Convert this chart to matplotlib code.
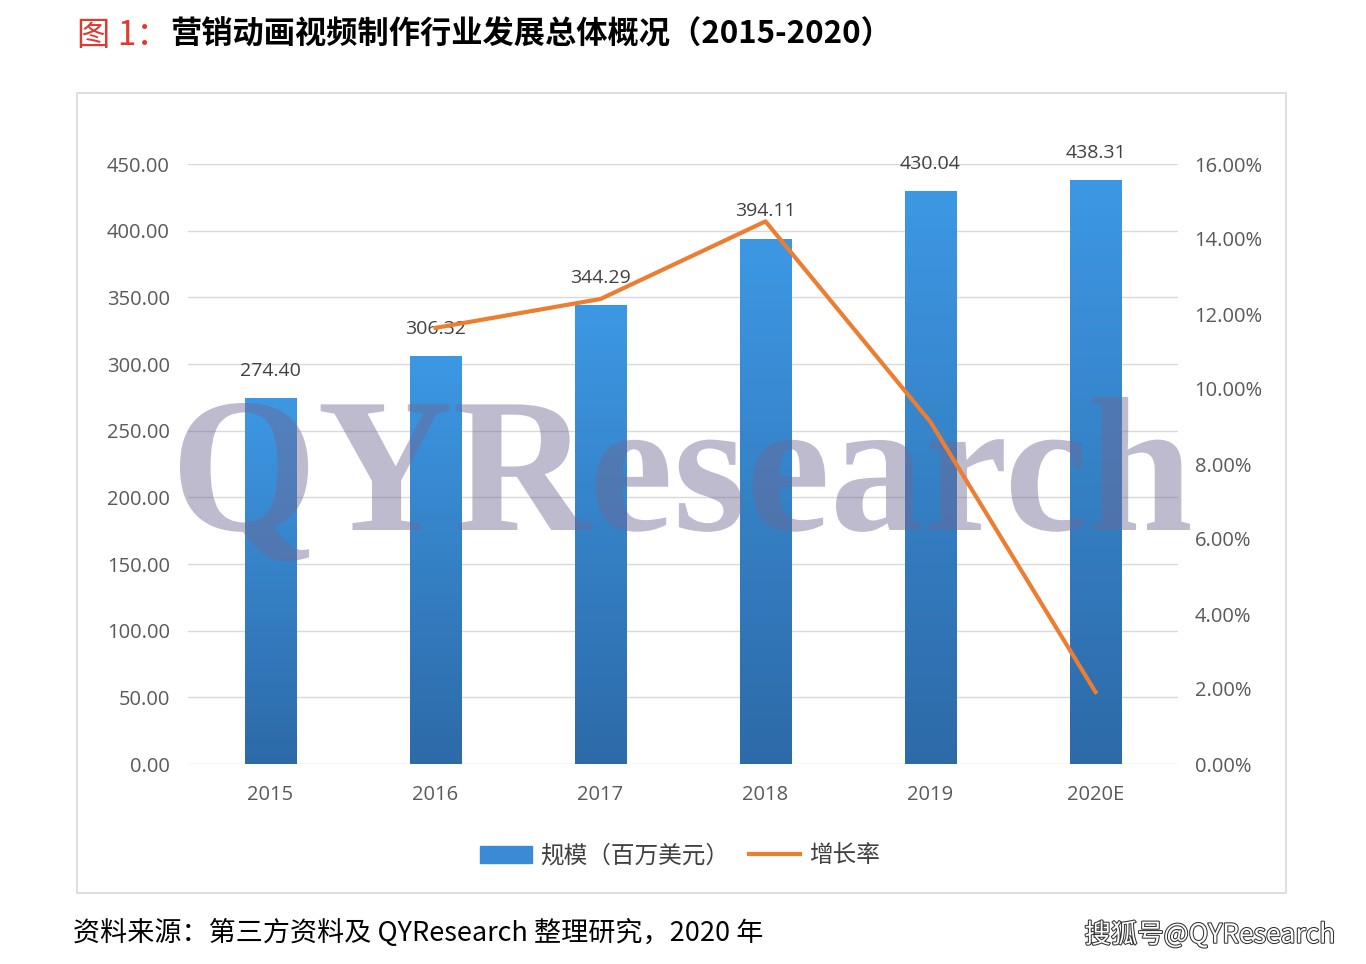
import numpy as np
import matplotlib
matplotlib.use("Agg")
import matplotlib.pyplot as plt
from matplotlib.textpath import TextPath
from matplotlib.font_manager import FontProperties
from matplotlib.patches import PathPatch, Rectangle
from matplotlib.transforms import Affine2D
from matplotlib.colors import LinearSegmentedColormap
import matplotlib.patheffects as pe

plt.rcParams['font.family'] = ['Open Sans', 'Noto Sans CJK SC', 'DejaVu Sans']

years = ["2015", "2016", "2017", "2018", "2019", "2020E"]
market_size = [274.40, 306.32, 344.29, 394.11, 430.04, 438.31]   # 百万美元
growth_years = ["2016", "2017", "2018", "2019", "2020E"]
growth_rate = [11.63, 12.40, 14.47, 9.12, 1.92]                # %

W, H = 1366, 964
fig = plt.figure(figsize=(W / 100, H / 100), dpi=100)
fig.patch.set_facecolor('white')

# outer frame of the chart area
fig.add_artist(Rectangle((77 / W, 1 - 893 / H), (1286 - 77) / W, (893 - 93) / H,
                         transform=fig.transFigure, fill=False,
                         edgecolor='#d9d9d9', lw=1.2))

ax = fig.add_axes([188 / W, 1 - 764 / H, (1178 - 188) / W, 600 / H])
x = np.arange(len(years))
bars = ax.bar(x, market_size, width=0.315, color='#3a8ad6', zorder=2)

# vertical gradient on each bar
cmap = LinearSegmentedColormap.from_list('bl', ['#2d6aa8', '#3d98e4'])
grad = np.linspace(0, 1, 256).reshape(-1, 1)
for b in bars:
    bx, by = b.get_x(), b.get_y()
    im = ax.imshow(grad, cmap=cmap, origin='lower', aspect='auto',
                   extent=[bx, bx + b.get_width(), by, by + b.get_height()],
                   zorder=2.1)
    im.set_clip_path(b)

for xi, v in zip(x, market_size):
    ax.annotate(f"{v:.2f}", (xi, v), xytext=(0, 13), textcoords='offset points',
                ha='center', va='bottom', fontsize=14, color='#404040', zorder=6)

ax.set_xlim(-0.5, len(years) - 0.5)
ax.set_ylim(0, 450)
ax.set_yticks(np.arange(0, 451, 50))
ax.yaxis.set_major_formatter(matplotlib.ticker.FuncFormatter(lambda v, p: f"{v:.2f}"))
ax.set_xticks(x)
ax.set_xticklabels(years)
ax.grid(axis='y', color='#d9d9d9', lw=1, zorder=0)
ax.set_axisbelow(True)
for s in ax.spines.values():
    s.set_visible(False)
ax.tick_params(axis='y', length=0, pad=13, labelsize=14.5, labelcolor='#595959')
ax.tick_params(axis='x', length=0, pad=15, labelsize=14.5, labelcolor='#595959')

ax2 = ax.twinx()
gx = [years.index(g) for g in growth_years]
line, = ax2.plot(gx, growth_rate, color='#ed7d31', lw=3, zorder=5)
ax2.set_ylim(0, 16)
ax2.set_yticks(np.arange(0, 17, 2))
ax2.yaxis.set_major_formatter(matplotlib.ticker.FuncFormatter(lambda v, p: f"{v:.2f}%"))
for s in ax2.spines.values():
    s.set_visible(False)
ax2.tick_params(axis='y', length=0, pad=12, labelsize=14.5, labelcolor='#595959')

# QYResearch watermark
tp = TextPath((0, 0), "QYResearch", size=100,
              prop=FontProperties(family='Liberation Serif', weight='bold'))
ext = tp.get_extents()
cap = 66.2
sx = (1190 - 180) / ext.width
sy = (530 - 403) / cap
tr = (Affine2D().translate(-ext.x0, 0).scale(sx / W, sy / H)
      .translate(180 / W, (H - 530) / H) + fig.transFigure)
wm = PathPatch(tp, facecolor='#6f6894', edgecolor='none', alpha=0.45,
               transform=tr, zorder=4)
wm.set_clip_on(False)
ax.add_patch(wm)

# legend
h_bar = Rectangle((0, 0), 1, 1, color='#3a8ad6')
fig.legend([h_bar, line], ["规模（百万美元）", "增长率"], loc='center',
           bbox_to_anchor=(680 / W, 1 - 856 / H), ncol=2, frameon=False,
           prop=FontProperties(family=['Noto Sans CJK SC'], size=17),
           labelcolor='#404040', handlelength=2.2, handletextpad=0.35,
           columnspacing=0.8)

# title
fig.text(77 / W, 1 - 35 / H, "图 1：", color='#e03a2f', fontsize=24,
         family=['Noto Sans CJK SC'], va='center', ha='left')
fig.text(170 / W, 1 - 35 / H, "营销动画视频制作行业发展总体概况（2015-2020）",
         color='black', fontsize=22.5, fontweight='bold',
         family=['Noto Sans CJK SC'], va='center', ha='left')

# footer
fig.text(73 / W, 1 - 933 / H, "资料来源：第三方资料及 QYResearch 整理研究，2020 年",
         color='black', fontsize=19.5, family=['Noto Sans CJK SC'],
         va='center', ha='left')
fig.text(1335 / W, 1 - 935 / H, "搜狐号@QYResearch", color='white', fontsize=19,
         family=['Noto Sans CJK SC'], va='center', ha='right',
         path_effects=[pe.withStroke(linewidth=1.5, foreground='#333333')])

fig.savefig('out.png', dpi=100, facecolor='white')
